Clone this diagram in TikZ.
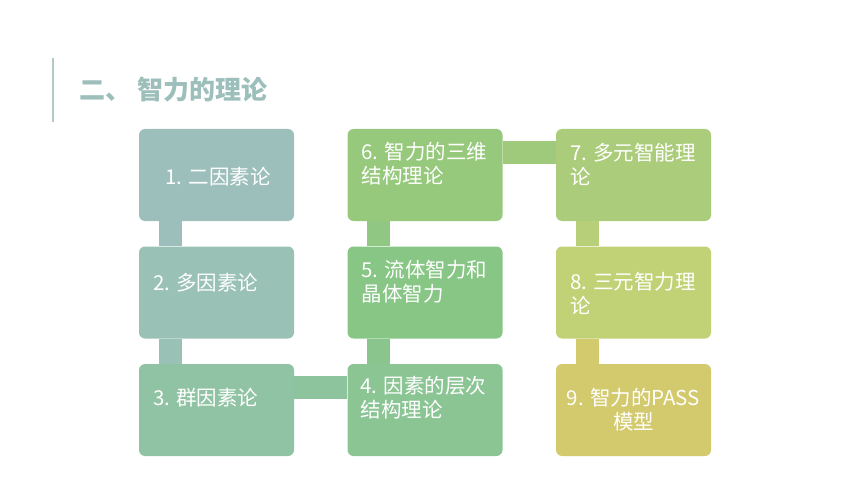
\documentclass[tikz,border=0pt]{standalone}
\usepackage{fontspec}
\newfontfamily\cjk{Noto Sans CJK SC}
\usetikzlibrary{positioning}

\definecolor{c1}{HTML}{9DBFBB}
\definecolor{c2}{HTML}{99C1B5}
\definecolor{c3}{HTML}{90C3A3}
\definecolor{c4}{HTML}{8BC594}
\definecolor{c5}{HTML}{88C686}
\definecolor{c6}{HTML}{97C97D}
\definecolor{c7}{HTML}{ABCC7A}
\definecolor{c8}{HTML}{C1D176}
\definecolor{c9}{HTML}{D3C96D}
\definecolor{headcol}{HTML}{9DBFBB}
\definecolor{barcol}{HTML}{B3CBC7}

\tikzset{
  box/.style={rectangle, rounded corners=6pt, minimum width=155pt, minimum height=92pt, inner sep=0pt},
  link/.style={line width=23pt},
  txt/.style={inner sep=0pt, text=white, align=left, font=\cjk\fontsize{20.5pt}{24pt}\selectfont},
}

\begin{document}
\begin{tikzpicture}[x=1pt,y=-1pt,node distance=117.5pt and 208.5pt,on grid]
    \useasboundingbox (0,0) rectangle (860,484);

    % heading
    \draw[barcol, line width=1.5pt] (53,58) coordinate (bar_a) -- (53,122) coordinate (bar_b);
    \node[anchor=west, inner sep=0pt, text=headcol, font=\cjk\bfseries\fontsize{26pt}{30pt}\selectfont] (head) at (79,90) {二、\hspace{6pt}智力的理论};

    % boxes
    \node[box, fill=c1] (b_1) at (216.5,175) {};
    \node[box, fill=c2] [below=of b_1] (b_2) {};
    \node[box, fill=c3] [below=of b_2] (b_3) {};
    \node[box, fill=c4] [right=of b_3] (b_4) {};
    \node[box, fill=c5] [above=of b_4] (b_5) {};
    \node[box, fill=c6] [above=of b_5] (b_6) {};
    \node[box, fill=c7] [right=of b_6] (b_7) {};
    \node[box, fill=c8] [below=of b_7] (b_8) {};
    \node[box, fill=c9] [below=of b_8] (b_9) {};

    % links
    \draw[link, c1] ([xshift=31.5pt]b_1.south west) -- ([xshift=31.5pt]b_2.north west);
    \draw[link, c2] ([xshift=31.5pt]b_2.south west) -- ([xshift=31.5pt]b_3.north west);
    \draw[link, c3!60!c4] ([yshift=-23.5pt]b_3.north east) -- ([yshift=-23.5pt]b_4.north west);
    \draw[link, c4!60!c5] ([xshift=31.5pt]b_4.north west) -- ([xshift=31.5pt]b_5.south west);
    \draw[link, c5!50!c6] ([xshift=31.5pt]b_5.north west) -- ([xshift=31.5pt]b_6.south west);
    \draw[link, c6!60!c7] ([yshift=-23.5pt]b_6.north east) -- ([yshift=-23.5pt]b_7.north west);
    \draw[link, c7!50!c8] ([xshift=31.5pt]b_7.south west) -- ([xshift=31.5pt]b_8.north west);
    \draw[link, c9] ([xshift=31.5pt]b_8.south west) -- ([xshift=31.5pt]b_9.north west);

    % texts
    \node[txt] (t_1) at ([xshift=1.5pt,yshift=-2pt]b_1.center) {1. 二因素论};
    \node[txt, anchor=west] (t_2) at ([xshift=14pt,yshift=10pt]b_2.west) {2. 多因素论};
    \node[txt, anchor=west] (t_3) at ([xshift=14pt,yshift=12pt]b_3.west) {3. 群因素论};
    \node[txt, anchor=west] (t_4) at ([xshift=13pt,yshift=12pt]b_4.west) {4. 因素的层次\\结构理论};
    \node[txt, anchor=west] (t_5) at ([xshift=14pt,yshift=11pt]b_5.west) {5. 流体智力和\\晶体智力};
    \node[txt, anchor=west] (t_6) at ([xshift=14pt,yshift=11pt]b_6.west) {6. 智力的三维\\结构理论};
    \node[txt, anchor=west] (t_7) at ([xshift=14pt,yshift=11pt]b_7.west) {7. 多元智能理\\论};
    \node[txt, anchor=west] (t_8) at ([xshift=14pt,yshift=-1pt]b_8.west) {8. 三元智力理\\论};
    \node[txt, align=center] (t_9) at (b_9.center) {9. 智力的PASS\\模型};
\end{tikzpicture}
\end{document}
